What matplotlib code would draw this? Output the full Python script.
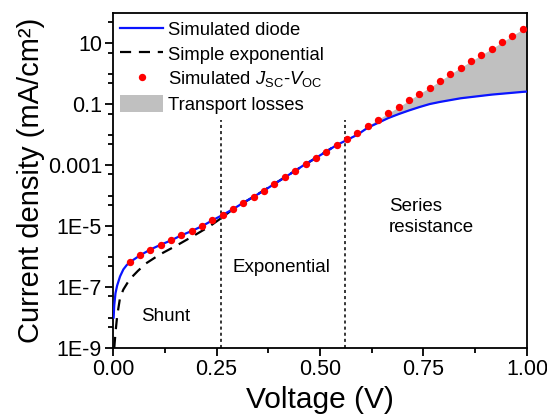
import numpy as np
import matplotlib
matplotlib.use("Agg")
import matplotlib.pyplot as plt
from matplotlib.patches import Patch
from matplotlib.lines import Line2D

plt.rcParams['font.family'] = ['Liberation Sans', 'DejaVu Sans']
plt.rcParams['mathtext.fontset'] = 'custom'
plt.rcParams['mathtext.rm'] = 'Liberation Sans'
plt.rcParams['mathtext.it'] = 'Liberation Sans:italic'

# Simulated Jsc-Voc points (voltage in V, log10 of current density in mA/cm2)
v_dots = [0.04, 0.065, 0.09, 0.115, 0.14, 0.165, 0.19, 0.215, 0.24, 0.265,
          0.29, 0.315, 0.34, 0.365, 0.39, 0.415, 0.44, 0.465, 0.49, 0.515,
          0.54, 0.565, 0.59, 0.615, 0.64, 0.665, 0.69, 0.715, 0.74, 0.765,
          0.79, 0.815, 0.84, 0.865, 0.89, 0.915, 0.94, 0.965, 0.99]
logj_dots = [-6.19, -5.96, -5.77, -5.61, -5.47, -5.30, -5.16, -5.00, -4.81, -4.63,
             -4.44, -4.23, -4.03, -3.83, -3.61, -3.40, -3.18, -2.96, -2.76, -2.55,
             -2.33, -2.13, -1.93, -1.71, -1.50, -1.29, -1.09, -0.87, -0.65, -0.45,
             -0.23, -0.01, 0.21, 0.42, 0.62, 0.83, 1.04, 1.26, 1.47]

# Simulated diode, low voltage part (shunt + exponential)
v_diode_low = [0.0015, 0.003, 0.006, 0.01, 0.017, 0.025, 0.033, 0.04, 0.065, 0.09,
               0.115, 0.14, 0.165, 0.19, 0.215, 0.24, 0.265, 0.29, 0.315, 0.34,
               0.365, 0.39, 0.415, 0.44, 0.465, 0.49, 0.515]
logj_diode_low = [-8.0, -7.6, -7.2, -6.95, -6.65, -6.42, -6.28, -6.19, -5.96, -5.77,
                  -5.61, -5.47, -5.30, -5.16, -5.00, -4.81, -4.63, -4.44, -4.23, -4.03,
                  -3.83, -3.61, -3.40, -3.18, -2.96, -2.76, -2.55]

# Simple exponential
v_exp = [0.003, 0.006, 0.01, 0.017, 0.025, 0.04, 0.06, 0.08, 0.113, 0.153,
         0.193, 0.233, 0.265, 0.29, 0.34, 0.39, 0.44, 0.49, 0.515, 0.54]
logj_exp = [-9.0, -8.5, -7.95, -7.35, -7.08, -6.75, -6.47, -6.22, -5.93, -5.64,
            -5.33, -5.01, -4.70, -4.44, -4.03, -3.61, -3.18, -2.76, -2.55, -2.33]

# High voltage part (series resistance region): diode and upper edge of losses
v_high = [0.54, 0.565, 0.59, 0.615, 0.64, 0.665, 0.69, 0.715, 0.74, 0.765,
          0.79, 0.815, 0.84, 0.865, 0.89, 0.915, 0.94, 0.965, 0.99, 1.0]
logj_diode_high = [-2.34, -2.17, -2.00, -1.77, -1.61, -1.45, -1.32, -1.20, -1.09, -0.99,
                   -0.92, -0.86, -0.80, -0.76, -0.72, -0.68, -0.65, -0.62, -0.59, -0.58]
logj_loss_top = [-2.33, -2.13, -1.93, -1.71, -1.50, -1.29, -1.09, -0.87, -0.65, -0.45,
                 -0.23, -0.01, 0.21, 0.42, 0.62, 0.83, 1.04, 1.26, 1.47, 1.55]

# Region boundaries
v_regions = [0.26, 0.56]
region_top = 0.03

j_dots = 10 ** np.array(logj_dots)
v_diode = v_diode_low + v_high
j_diode = 10 ** np.array(logj_diode_low + logj_diode_high)
j_exp = 10 ** np.array(logj_exp)

fig = plt.figure(figsize=(5.47, 4.19), dpi=100)
ax = fig.add_axes([0.2066, 0.1695, 0.7568, 0.7995])

ax.fill_between(v_high, 10 ** np.array(logj_diode_high), 10 ** np.array(logj_loss_top),
                color='#c0c0c0', lw=0, zorder=1)
ax.plot(v_exp, j_exp, color='black', lw=1.6, dashes=(5, 3.5), zorder=2)
ax.plot(v_diode, j_diode, color='#0a14ff', lw=1.6, zorder=3)
ax.plot(v_dots, j_dots, 'o', color='#ff0000', ms=5.3, mec='none', zorder=4)

for v in v_regions:
    ax.plot([v, v], [1e-9, region_top], color='black', lw=1.1, dashes=(2, 2), zorder=1)

ax.text(0.128, 1.1e-8, 'Shunt', fontsize=13.5, ha='center', va='center')
ax.text(0.406, 10 ** -6.36, 'Exponential', fontsize=13.5, ha='center', va='center')
ax.text(0.666, 10 ** -4.70, 'Series\nresistance', fontsize=13.5, ha='left', va='center',
        linespacing=1.25)

ax.set_yscale('log')
ax.set_xlim(0, 1.0)
ax.set_ylim(1e-9, 100)

ax.xaxis.set_major_locator(matplotlib.ticker.FixedLocator([0, 0.25, 0.5, 0.75, 1.0]))
ax.xaxis.set_major_formatter(matplotlib.ticker.FixedFormatter(['0.00', '0.25', '0.50', '0.75', '1.00']))
ax.xaxis.set_minor_locator(matplotlib.ticker.FixedLocator([0.125, 0.375, 0.625, 0.875]))

y_major = [1e-9, 1e-7, 1e-5, 1e-3, 1e-1, 10]
y_labels = ['1E-9', '1E-7', '1E-5', '0.001', '0.1', '10']
y_minor = [5e-9, 1e-8, 5e-8, 5e-7, 1e-6, 5e-6, 5e-5, 1e-4, 5e-4, 5e-3, 1e-2, 5e-2,
           0.5, 1, 5, 50]
ax.yaxis.set_major_locator(matplotlib.ticker.FixedLocator(y_major))
ax.yaxis.set_major_formatter(matplotlib.ticker.FixedFormatter(y_labels))
ax.yaxis.set_minor_locator(matplotlib.ticker.FixedLocator(y_minor))
ax.yaxis.set_minor_formatter(matplotlib.ticker.NullFormatter())

ax.tick_params(which='major', direction='out', length=6, width=1.3, labelsize=15.5, pad=2)
ax.tick_params(which='minor', direction='out', length=3.5, width=1.3)
for s in ax.spines.values():
    s.set_linewidth(1.3)

ax.set_xlabel('Voltage (V)', fontsize=21.5, labelpad=4)
ax.set_ylabel('Current density (mA/cm²)', fontsize=21, labelpad=2)

handles = [Line2D([], [], color='#0a14ff', lw=1.6),
           Line2D([], [], color='black', lw=1.6, dashes=(5, 3.5)),
           Line2D([], [], ls='none', marker='o', color='#ff0000', ms=5.3, mec='none'),
           Patch(facecolor='#c0c0c0', edgecolor='none')]
labels = ['Simulated diode', 'Simple exponential',
          'Simulated $J_{\\rm SC}$-$V_{\\rm OC}$', 'Transport losses']
ax.legend(handles, labels, loc='upper left', bbox_to_anchor=(0.0, 1.0), frameon=False,
          fontsize=13.3, handlelength=2.3, handleheight=1.05, handletextpad=0.3,
          labelspacing=0.3, borderaxespad=0.2, borderpad=0.2)

fig.savefig('out.png', dpi=100)
